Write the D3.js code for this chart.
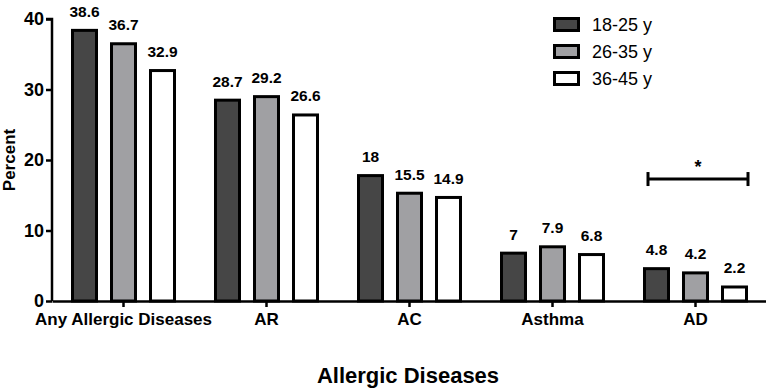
<!DOCTYPE html>
<html>
<head>
<script src="https://d3js.org/d3.v7.min.js"></script>
<style>
  body { margin: 0; background: #fff; }
  text { font-family: "Liberation Sans", Arial, sans-serif; }
</style>
</head>
<body>
<script>
    var categories = ['Any Allergic Diseases', 'AR', 'AC', 'Asthma', 'AD'];
    var series = ['18-25 y', '26-35 y', '36-45 y'];
    var age18to25 = [38.6, 28.7, 18, 7, 4.8];
    var age26to35 = [36.7, 29.2, 15.5, 7.9, 4.2];
    var age36to45 = [32.9, 26.6, 14.9, 6.8, 2.2];
    var yTicks = [0, 10, 20, 30, 40];
    var colors = ['#464646', '#a0a0a3', '#ffffff'];

    var w = 766, h = 390;
    var mLeft = 52, mRight = 767, mTop = 19, mBottom = 301;

    var values = [age18to25, age26to35, age36to45];
    var rows = [];
    categories.forEach(function(c, i){
        series.forEach(function(s, j){
            rows.push({cat: c, ser: s, idx: j, val: values[j][i]});
        });
    });

    var svg = d3.select('body').append('svg')
        .attr('width', w).attr('height', h);

    var x0 = d3.scaleBand().domain(categories).range([mLeft, mRight]);
    var x1 = d3.scaleBand().domain(series).range([0, 105])
        .paddingInner(12 / 39).paddingOuter(0);
    var groupOff = (x0.bandwidth() - 105) / 2;
    var y = d3.scaleLinear().domain([0, 40]).range([mBottom, mTop]);

    // bars
    var sw = 3;
    svg.append('g').selectAll('rect').data(rows).join('rect')
        .attr('x', function(d){ return x0(d.cat) + groupOff + x1(d.ser) + sw / 2 })
        .attr('y', function(d){ return y(d.val) + sw / 2 })
        .attr('width', x1.bandwidth() - sw)
        .attr('height', function(d){ return y(0) - y(d.val) - sw / 2 })
        .attr('fill', function(d){ return colors[d.idx] })
        .attr('stroke', '#000')
        .attr('stroke-width', sw);

    // value labels
    svg.append('g').selectAll('text').data(rows).join('text')
        .attr('x', function(d){ return x0(d.cat) + groupOff + x1(d.ser) + x1.bandwidth() / 2 })
        .attr('y', function(d){ return Math.max(y(d.val) - 12, 13) })
        .attr('text-anchor', 'middle')
        .style('font-size', '15.5px').style('font-weight', 'bold')
        .text(function(d){ return d.val });

    // y axis
    var yAxis = svg.append('g')
        .attr('transform', 'translate(' + mLeft + ',0)')
        .call(d3.axisLeft(y).tickValues(yTicks).tickSize(6).tickPadding(2));
    yAxis.select('.domain').attr('stroke-width', 2.5).attr('d', 'M-6,' + mTop + 'H0V' + mBottom);
    yAxis.selectAll('.tick line').attr('stroke-width', 2.5);
    yAxis.selectAll('.tick text')
        .style('font-size', '18px').style('font-weight', 'bold')
        .style('font-family', '"Liberation Sans", Arial, sans-serif').attr('fill', '#000');

    // x axis
    var xAxis = svg.append('g')
        .attr('transform', 'translate(0,' + mBottom + ')')
        .call(d3.axisBottom(x0).tickSize(6).tickPadding(6).tickSizeOuter(0));
    xAxis.select('.domain').attr('stroke-width', 2.5);
    xAxis.selectAll('.tick line').attr('stroke-width', 2.5);
    xAxis.selectAll('.tick text')
        .style('font-size', '17px').style('font-weight', 'bold')
        .style('font-family', '"Liberation Sans", Arial, sans-serif').attr('fill', '#000');

    // axis titles
    svg.append('text')
        .attr('transform', 'translate(15,' + ((mTop + mBottom) / 2) + ') rotate(-90)')
        .attr('text-anchor', 'middle')
        .style('font-size', '17px').style('font-weight', 'bold')
        .text('Percent');
    svg.append('text')
        .attr('x', 408).attr('y', 383)
        .attr('text-anchor', 'middle')
        .style('font-size', '22px').style('font-weight', 'bold')
        .text('Allergic Diseases');

    // significance bracket over AD
    var bx1 = x0('AD') + groupOff + x1(series[0]) + 5;
    var bx2 = x0('AD') + groupOff + x1(series[2]) + x1.bandwidth();
    var by = y(17.3);
    var br = svg.append('g').attr('stroke', '#000').attr('stroke-width', 3);
    br.append('line').attr('x1', bx1).attr('x2', bx2).attr('y1', by).attr('y2', by);
    br.append('line').attr('x1', bx1).attr('x2', bx1).attr('y1', by - 7).attr('y2', by + 7);
    br.append('line').attr('x1', bx2).attr('x2', bx2).attr('y1', by - 7).attr('y2', by + 7);
    svg.append('text')
        .attr('x', (bx1 + bx2) / 2).attr('y', by - 6)
        .attr('text-anchor', 'middle')
        .style('font-size', '18px').style('font-weight', 'bold')
        .text('*');

    // legend
    var lg = svg.append('g').attr('transform', 'translate(553,17)');
    var item = lg.selectAll('g').data(series).join('g')
        .attr('transform', function(d, i){ return 'translate(0,' + (i * 27) + ')' });
    item.append('rect')
        .attr('x', 1.5).attr('y', 1.5).attr('width', 24).attr('height', 12)
        .attr('fill', function(d, i){ return colors[i] })
        .attr('stroke', '#000').attr('stroke-width', 3);
    item.append('text')
        .attr('x', 39).attr('y', 14)
        .style('font-size', '18px')
        .text(function(d){ return d });
</script>
</body>
</html>
